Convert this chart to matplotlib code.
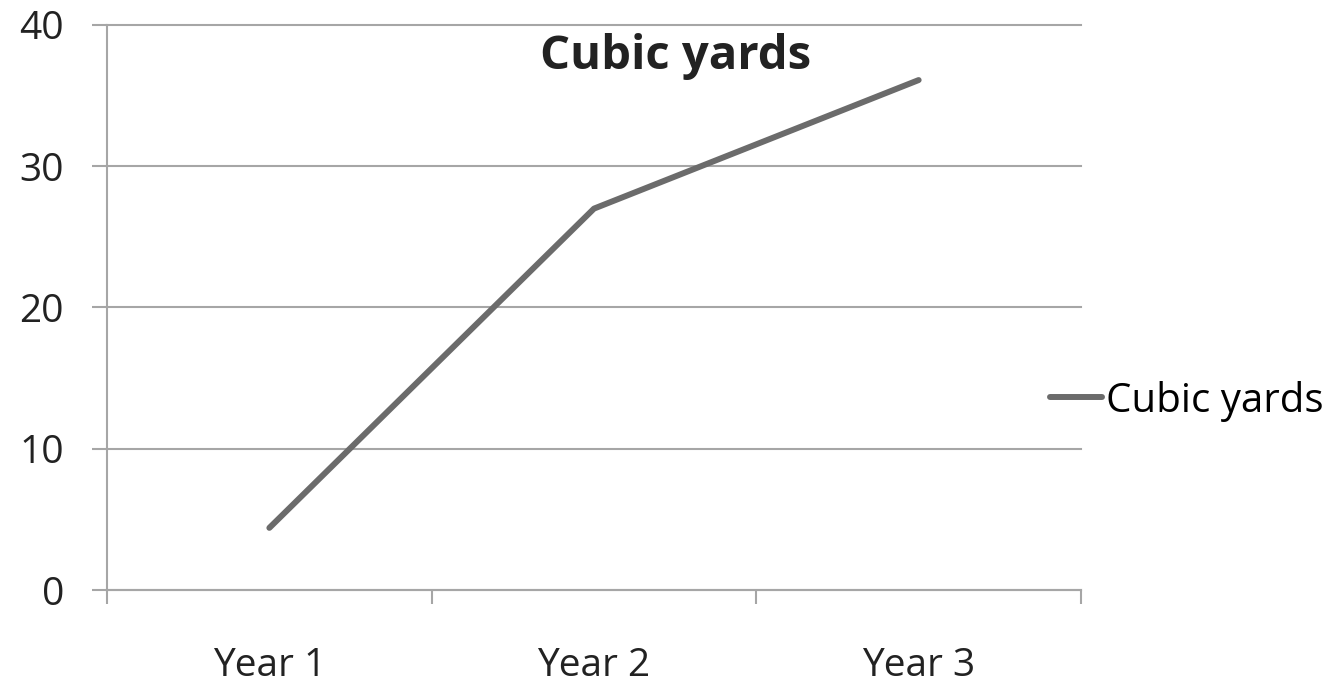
import matplotlib.pyplot as plt

# data
years = ["Year 1", "Year 2", "Year 3"]
cubic_yards = [4.4, 27.0, 36.1]
y_ticks = [0, 10, 20, 30, 40]

plt.rcParams['font.family'] = ['Open Sans', 'DejaVu Sans']

fig = plt.figure(figsize=(13.38, 6.84), dpi=100)
ax = fig.add_axes([0.08, 0.1374, 0.7279, 0.8261])

x = list(range(len(years)))
ax.plot(x, cubic_yards, color="#6b6b6b", linewidth=4.3, solid_capstyle="round",
        label="Cubic yards")

ax.set_xlim(-0.5, len(years) - 0.5)
ax.set_ylim(0, 40)
ax.set_yticks(y_ticks)
ax.set_xticks(x)
ax.set_xticklabels(years)
ax.set_xticks([i - 0.5 for i in range(len(years) + 1)], minor=True)

# gridlines
for t in y_ticks:
    ax.axhline(t, color="#a6a6a6", linewidth=1.5, zorder=0, clip_on=False)

for s in ["top", "right"]:
    ax.spines[s].set_visible(False)
for s in ["left", "bottom"]:
    ax.spines[s].set_color("#a6a6a6")
    ax.spines[s].set_linewidth(1.5)

ax.tick_params(axis="x", which="major", length=0, pad=41, labelsize=28, colors="#222222")
ax.tick_params(axis="x", which="minor", length=10, width=1.5, color="#a6a6a6")
ax.tick_params(axis="y", length=11, width=1.5, color="#a6a6a6", pad=20,
               labelsize=28, labelcolor="#222222")

fig.text(0.505, 0.918, "Cubic yards", ha="center", va="center",
         fontsize=34, fontweight="bold", color="#222222")

ax.legend(loc="center left", bbox_to_anchor=(1050 / 1338, 1 - 401 / 684),
          bbox_transform=fig.transFigure, frameon=False, fontsize=29,
          handlelength=1.3, handletextpad=0.1, borderpad=0, borderaxespad=0)

fig.savefig("out.png", dpi=100)
